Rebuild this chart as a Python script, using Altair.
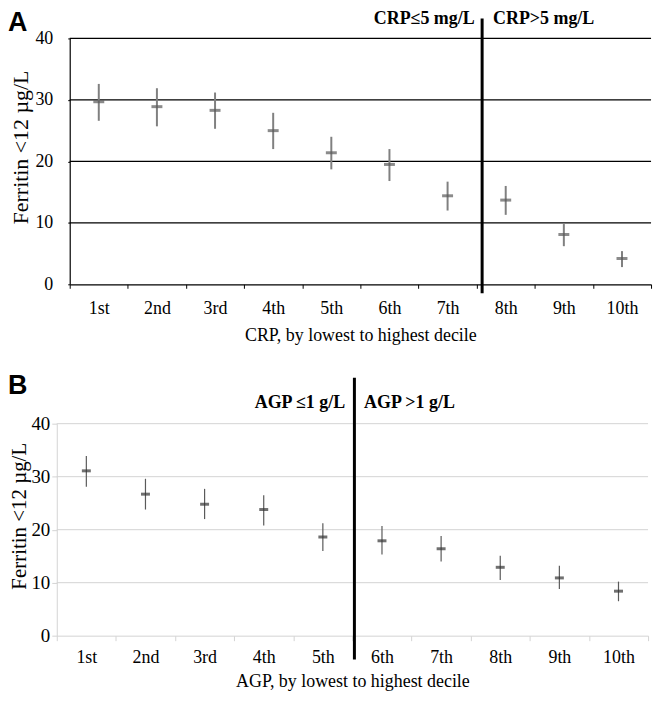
import altair as alt
import pandas as pd

deciles = ["1st", "2nd", "3rd", "4th", "5th", "6th", "7th", "8th", "9th", "10th"]
crp_est = [29.7, 28.9, 28.3, 25.0, 21.4, 19.5, 14.4, 13.7, 8.1, 4.2]
crp_lo = [26.6, 25.7, 25.3, 22.0, 18.7, 16.8, 12.0, 11.3, 6.2, 2.8]
crp_hi = [32.6, 31.9, 31.2, 27.9, 24.0, 22.0, 16.7, 16.0, 9.8, 5.4]
agp_est = [31.1, 26.7, 24.8, 23.8, 18.6, 17.9, 16.4, 12.9, 10.9, 8.4]
agp_lo = [28.1, 23.8, 22.0, 20.8, 16.0, 15.3, 14.0, 10.5, 8.8, 6.5]
agp_hi = [33.9, 29.6, 27.7, 26.5, 21.2, 20.7, 18.8, 15.1, 13.2, 10.2]
grid_vals = [10, 20, 30, 40]
y_ticks = [0, 10, 20, 30, 40]

SERIF = "Liberation Serif"
SANS = "Liberation Sans"

df_a = pd.DataFrame({"d": deciles, "est": crp_est, "lo": crp_lo, "hi": crp_hi})
df_b = pd.DataFrame({"d": deciles, "est": agp_est, "lo": agp_lo, "hi": agp_hi})
df_grid = pd.DataFrame({"v": grid_vals})


def text_layer(txt, x, y, size, weight="normal", font=SERIF, align="left", baseline="top", angle=0):
    kw = dict(fontSize=size, fontWeight=weight, font=font, align=align, baseline=baseline, color="black")
    if angle:
        kw["angle"] = angle
    return alt.Chart(pd.DataFrame({"t": [txt]})).mark_text(**kw).encode(
        text="t:N", x=alt.value(x), y=alt.value(y)
    )


# ---------------- Panel A ----------------
WA, HA = 584, 247
BAND_A = WA / 10
DIV_A = 7 * BAND_A + 5.5
x_axis_a = alt.Axis(
    title="CRP, by lowest to highest decile", titleFont=SERIF, titleFontSize=18,
    titleFontWeight="normal", titleColor="black", titlePadding=9,
    labelFont=SERIF, labelFontSize=18, labelColor="black", labelAngle=0, labelPadding=11,
    domainColor="black", domainWidth=1.2, tickColor="black", tickSize=4, tickBand="extent",
    grid=False,
)
y_axis_a = alt.Axis(
    title=None, values=y_ticks, labelFont=SERIF, labelFontSize=18, labelColor="black",
    labelPadding=15, domainColor="black", domainWidth=1.2, tickColor="black", tickSize=2,
    grid=False,
)
xa = alt.X("d:N", sort=deciles,
           scale=alt.Scale(domain=deciles, paddingInner=0, paddingOuter=0), axis=x_axis_a)
ysc = alt.Scale(domain=[0, 40])

grid_a = alt.Chart(df_grid).mark_rule(color="black", strokeWidth=1.2).encode(
    y=alt.Y("v:Q", scale=ysc, axis=y_axis_a),
    x=alt.value(0), x2=alt.value(WA),
)
err_a = alt.Chart(df_a).mark_rule(color="#808080", strokeWidth=2).encode(
    x=xa, y=alt.Y("lo:Q", scale=ysc, axis=y_axis_a), y2="hi:Q"
)
pt_a = alt.Chart(df_a).mark_tick(color="#5a5a5a", size=11, thickness=3).encode(
    x=alt.X("d:N", sort=deciles), y=alt.Y("est:Q", scale=ysc, axis=y_axis_a)
)
div_a = alt.Chart(pd.DataFrame({"k": [1]})).mark_rule(color="black", strokeWidth=3).encode(
    x=alt.value(DIV_A), y=alt.value(-20), y2=alt.value(HA + 9)
)
panel_a = alt.layer(
    grid_a, err_a, pt_a, div_a,
    text_layer("CRP\u22645 mg/L", DIV_A - 7.5, -14, 18, weight="bold", align="right", baseline="alphabetic"),
    text_layer("CRP>5 mg/L", DIV_A + 11, -14, 18, weight="bold", align="left", baseline="alphabetic"),
    text_layer("A", -62, -28, 27, weight="bold", font=SANS),
    text_layer("Ferritin <12 \u00b5g/L", -49, 109.5, 22, align="center", baseline="middle", angle=270),
).properties(width=WA, height=HA)

# ---------------- Panel B ----------------
BL, BR = -13, 581  # horizontal extent of panel B's axes, relative to panel A's plot origin
WB, HB = WA, 213
DIV_B = BL + 5 * (BR - BL) / 10 + 2
GRAY = "#d4d4d4"
x_axis_b = alt.Axis(
    title="AGP, by lowest to highest decile", titleFont=SERIF, titleFontSize=18,
    titleFontWeight="normal", titleColor="black", titlePadding=6,
    labelFont=SERIF, labelFontSize=18, labelColor="black", labelAngle=0, labelPadding=8,
    domainColor=GRAY, tickColor=GRAY, tickSize=5, tickBand="extent", grid=False,
)
y_axis_b = alt.Axis(
    title=None, values=y_ticks, offset=-BL, labelFont=SERIF, labelFontSize=19,
    labelColor="black", labelPadding=2, domainColor=GRAY, tickColor=GRAY, tickSize=5,
    grid=False,
)
xb = alt.X("d:N", sort=deciles,
           scale=alt.Scale(domain=deciles, range=[BL, BR], paddingInner=0, paddingOuter=0),
           axis=x_axis_b)

grid_b = alt.Chart(df_grid).mark_rule(color=GRAY, strokeWidth=1).encode(
    y=alt.Y("v:Q", scale=ysc, axis=y_axis_b),
    x=alt.value(BL), x2=alt.value(BR),
)
err_b = alt.Chart(df_b).mark_rule(color="#5a5a5a", strokeWidth=1.2).encode(
    x=xb, y=alt.Y("lo:Q", scale=ysc, axis=y_axis_b), y2="hi:Q"
)
pt_b = alt.Chart(df_b).mark_tick(color="#333333", size=9, thickness=3).encode(
    x=alt.X("d:N", sort=deciles), y=alt.Y("est:Q", scale=ysc, axis=y_axis_b)
)
div_b = alt.Chart(pd.DataFrame({"k": [1]})).mark_rule(color="black", strokeWidth=3).encode(
    x=alt.value(DIV_B), y=alt.value(-46), y2=alt.value(HB + 24)
)
panel_b = alt.layer(
    grid_b, err_b, pt_b, div_b,
    text_layer("AGP \u22641 g/L", DIV_B - 9.3, -16, 18, weight="bold", align="right", baseline="alphabetic"),
    text_layer("AGP >1 g/L", DIV_B + 9.7, -16, 18, weight="bold", align="left", baseline="alphabetic"),
    text_layer("B", -62, -51, 27, weight="bold", font=SANS),
    text_layer("Ferritin <12 \u00b5g/L", -49.5, 93, 21, align="center", baseline="middle", angle=270),
).properties(width=WB, height=HB)

chart = alt.vconcat(panel_a, panel_b, spacing=28).properties(padding=0).configure_view(
    stroke=None
)

chart.save("out.html", embed_options={"renderer": "svg", "actions": False})
